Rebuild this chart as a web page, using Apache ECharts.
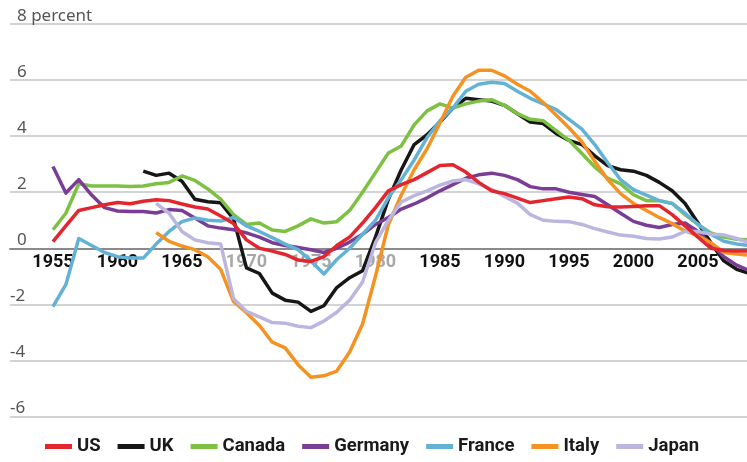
<!DOCTYPE html>
<html>
<head>
<meta charset="UTF-8">
<script type="text/javascript" src="https://cdn.jsdelivr.net/npm/echarts@6/dist/echarts.min.js"></script>
<title></title>
</head>
<body style="margin:0">
<div id="main" style="width:747px;height:462px"></div>
<script type="text/javascript">
// real interest rates, percent, annual from the first year given
var yearLabels = [1955, 1960, 1965, 1970, 1975, 1980, 1985, 1990, 1995, 2000, 2005];
var fadedLabels = [1970, 1975, 1980];
var names = ['US', 'UK', 'Canada', 'Germany', 'France', 'Italy', 'Japan'];
var colors = ['#e3262d', '#161616', '#7cc142', '#7a3d96', '#63b2d6', '#f49321', '#bab6e0'];

var usStart = 1955;
var us = [0.24, 0.8, 1.35, 1.45, 1.55, 1.63, 1.59, 1.68, 1.73, 1.7, 1.58, 1.47, 1.4, 1.15, 0.88,
    0.3, 0.0, -0.1, -0.22, -0.42, -0.47, -0.3, 0.1, 0.4, 0.9, 1.45, 2.05, 2.27, 2.45, 2.7,
    2.95, 2.98, 2.72, 2.35, 2.05, 1.95, 1.79, 1.63, 1.7, 1.77, 1.83, 1.77, 1.55, 1.48, 1.47,
    1.49, 1.52, 1.52, 1.2, 0.8, 0.4, 0.0, -0.08, -0.1, -0.1];

var ukStart = 1962;
var uk = [2.75, 2.6, 2.68, 2.39, 1.75, 1.66, 1.62, 1.05, -0.7, -0.9, -1.6, -1.85, -1.92, -2.25,
    -2.05, -1.4, -1.05, -0.8, 0.4, 1.75, 2.8, 3.7, 4.05, 4.5, 5.0, 5.35, 5.3, 5.25, 5.1, 4.8,
    4.5, 4.45, 4.1, 3.85, 3.7, 3.3, 2.95, 2.8, 2.75, 2.6, 2.35, 2.05, 1.6, 0.9, 0.2, -0.45,
    -0.75, -0.9];

var canadaStart = 1955;
var canada = [0.66, 1.25, 2.3, 2.22, 2.22, 2.22, 2.2, 2.22, 2.3, 2.35, 2.58, 2.42, 2.12, 1.75,
    1.2, 0.85, 0.9, 0.65, 0.6, 0.8, 1.05, 0.9, 0.95, 1.35, 2.0, 2.7, 3.4, 3.65, 4.4, 4.9, 5.15,
    5.0, 5.15, 5.25, 5.3, 5.1, 4.8, 4.6, 4.55, 4.2, 3.85, 3.38, 2.9, 2.5, 2.3, 1.91, 1.7, 1.7,
    1.6, 1.2, 0.85, 0.55, 0.4, 0.32, 0.3];

var germanyStart = 1955;
var germany = [2.92, 1.97, 2.45, 1.9, 1.45, 1.33, 1.31, 1.31, 1.26, 1.38, 1.35, 1.08, 0.8, 0.72,
    0.66, 0.55, 0.4, 0.2, 0.1, 0.03, -0.05, -0.15, 0.0, 0.22, 0.5, 0.85, 1.1, 1.4, 1.58, 1.8,
    2.05, 2.27, 2.5, 2.62, 2.68, 2.6, 2.45, 2.2, 2.12, 2.12, 2.0, 1.92, 1.85, 1.55, 1.25, 0.96,
    0.82, 0.74, 0.85, 0.9, 0.6, 0.15, -0.3, -0.6, -0.8];

var franceStart = 1955;
var france = [-2.08, -1.3, 0.35, 0.1, -0.15, -0.3, -0.35, -0.35, 0.15, 0.6, 0.95, 1.08, 1.0, 0.97,
    1.1, 0.8, 0.6, 0.38, 0.15, -0.05, -0.45, -0.92, -0.4, 0.0, 0.5, 1.0, 1.8, 2.45, 3.15, 3.95,
    4.55, 5.0, 5.6, 5.85, 5.92, 5.88, 5.6, 5.35, 5.15, 4.95, 4.6, 4.25, 3.7, 3.05, 2.45, 2.09,
    1.9, 1.7, 1.6, 1.25, 0.85, 0.5, 0.25, 0.15, 0.1];

var italyStart = 1963;
var italy = [0.56, 0.25, 0.08, -0.05, -0.3, -0.75, -1.9, -2.3, -2.75, -3.35, -3.55, -4.15, -4.6,
    -4.55, -4.38, -3.7, -2.7, -1.0, 0.85, 1.9, 2.8, 3.55, 4.47, 5.42, 6.1, 6.35, 6.35, 6.15,
    5.85, 5.6, 5.2, 4.75, 4.3, 3.8, 3.1, 2.45, 1.95, 1.6, 1.35, 1.1, 0.88, 0.62, 0.45, 0.2,
    -0.15, -0.2, -0.25];

var japanStart = 1963;
var japan = [1.6, 1.25, 0.6, 0.3, 0.2, 0.15, -1.8, -2.25, -2.45, -2.65, -2.67, -2.78, -2.83, -2.6,
    -2.28, -1.85, -1.2, 0.2, 1.0, 1.65, 1.88, 2.05, 2.25, 2.4, 2.45, 2.3, 2.1, 1.85, 1.61, 1.2,
    1.0, 0.96, 0.95, 0.85, 0.7, 0.58, 0.47, 0.43, 0.35, 0.33, 0.4, 0.6, 0.6, 0.5, 0.48, 0.35,
    0.2];

function pairs(start, vals) {
    return vals.map(function (v, i) { return [start + i, v]; });
}

var seriesData = {
    'US': pairs(usStart, us),
    'UK': pairs(ukStart, uk),
    'Canada': pairs(canadaStart, canada),
    'Germany': pairs(germanyStart, germany),
    'France': pairs(franceStart, france),
    'Italy': pairs(italyStart, italy),
    'Japan': pairs(japanStart, japan)
};
// drawing order, US on top
var zOrder = {'UK': 1, 'Canada': 2, 'Germany': 3, 'France': 4, 'Italy': 5, 'Japan': 6, 'US': 7};

var myChart = echarts.init(document.getElementById('main'));

var series = names.map(function (n, i) {
    return {
        name: n,
        type: 'line',
        data: seriesData[n],
        showSymbol: false,
        symbol: 'none',
        z: 2 + zOrder[n] / 10,
        lineStyle: {width: 3.5, color: colors[i], join: 'round'},
        itemStyle: {color: colors[i]}
    };
});

var option = {
    animation: false,
    grid: {left: 10, right: 0, top: 24, bottom: 45.5},
    legend: {
        data: names,
        left: 45,
        top: 437,
        padding: 0,
        icon: 'rect',
        itemWidth: 27,
        itemHeight: 5,
        itemGap: 17,
        textStyle: {
            fontFamily: 'Roboto',
            fontWeight: 'bold',
            fontSize: 18.5,
            color: '#1a1a1a'
        }
    },
    xAxis: {
        type: 'value',
        min: 1951.67,
        max: 2008.8,
        // moved up onto the zero line, labels included
        offset: -168,
        axisLine: {onZero: false, lineStyle: {color: '#8a8a8a', width: 2}},
        axisTick: {show: false},
        splitLine: {show: false},
        axisLabel: {
            customValues: yearLabels,
            margin: 5,
            formatter: function (v) {
                return fadedLabels.indexOf(v) >= 0 ? '{f|' + v + '}' : '{n|' + v + '}';
            },
            rich: {
                n: {fontFamily: 'Roboto', fontWeight: 'bold', fontSize: 18, color: '#111'},
                f: {fontFamily: 'Roboto', fontWeight: 'bold', fontSize: 18, color: '#a8a8a8'}
            }
        }
    },
    yAxis: {
        type: 'value',
        min: -6,
        max: 8,
        interval: 2,
        axisLine: {show: false},
        axisTick: {show: false},
        splitLine: {lineStyle: {color: '#c4c4c4', width: 1.5}},
        axisLabel: {
            inside: true,
            margin: 0,
            verticalAlign: 'bottom',
            align: 'left',
            formatter: function (v) {
                if (v === 8) return '{p|8 percent}';
                return v < 0 ? '{m|' + v + '}' : '{p|' + v + '}';
            },
            rich: {
                p: {fontFamily: 'Noto Sans', fontSize: 17, lineHeight: 16, color: '#555', padding: [0, 0, 0, 7]},
                m: {fontFamily: 'Noto Sans', fontSize: 17, lineHeight: 16, color: '#555'}
            }
        }
    },
    series: series
};

myChart.setOption(option);
</script>
</body>
</html>
